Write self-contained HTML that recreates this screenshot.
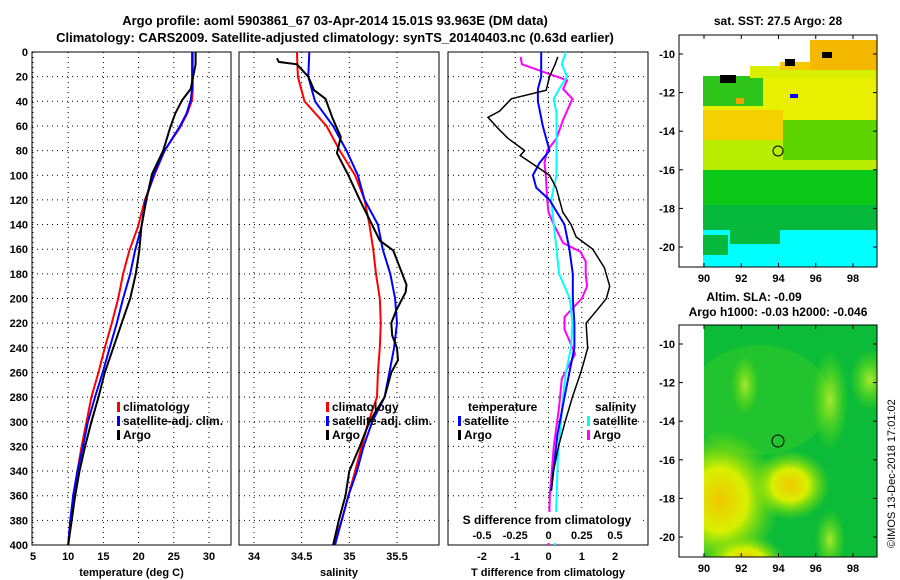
<!DOCTYPE html>
<html><head><meta charset="utf-8"><style>
body{margin:0;background:#fff;}
svg{display:block;font-family:"Liberation Sans",sans-serif;font-weight:bold;}
</style></head><body>
<svg id="chart" width="900" height="580" viewBox="0 0 900 580" xmlns="http://www.w3.org/2000/svg">
<defs>
<radialGradient id="yb"><stop offset="0" stop-color="#f0c800"/><stop offset="0.45" stop-color="#d8f000"/><stop offset="1" stop-color="#7ee000" stop-opacity="0"/></radialGradient>
<radialGradient id="gb"><stop offset="0" stop-color="#a8e830"/><stop offset="1" stop-color="#70e000" stop-opacity="0"/></radialGradient>
<clipPath id="c2"><rect x="704" y="325" width="173" height="232"/></clipPath>
</defs>
<text x="335" y="25" font-size="13" text-anchor="middle">Argo profile: aoml 5903861_67 03-Apr-2014 15.01S 93.963E (DM data)</text>
<text x="335" y="42" font-size="13" text-anchor="middle">Climatology: CARS2009. Satellite-adjusted climatology: synTS_20140403.nc (0.63d earlier)</text>
<g id="plots"></g>
<g>
<text x="778" y="25" font-size="12" text-anchor="middle">sat. SST: 27.5 Argo: 28</text>
<rect x="703" y="76" width="174" height="50" fill="#e8f000"/>
<rect x="703" y="76" width="60" height="30" fill="#2ec41a"/>
<rect x="750" y="66" width="127" height="12" fill="#d8ef00"/>
<rect x="780" y="62" width="97" height="8" fill="#f5c800"/>
<rect x="810" y="40" width="67" height="30" fill="#f5b800"/>
<rect x="703" y="110" width="80" height="35" fill="#f5d000"/>
<rect x="703" y="140" width="174" height="30" fill="#b8ec00"/>
<rect x="783" y="120" width="94" height="40" fill="#5ed400"/>
<rect x="703" y="170" width="174" height="40" fill="#0cc818"/>
<rect x="703" y="205" width="174" height="32" fill="#06b83c"/>
<rect x="703" y="230" width="174" height="37" fill="#00ffff"/>
<rect x="730" y="230" width="50" height="14" fill="#06b83c"/>
<rect x="703" y="235" width="25" height="20" fill="#06b83c"/>
<rect x="720" y="75" width="16" height="8" fill="#000"/>
<rect x="785" y="59" width="10" height="7" fill="#000"/>
<rect x="822" y="52" width="10" height="6" fill="#000"/>
<rect x="790" y="94" width="8" height="4" fill="#0000ff"/>
<rect x="736" y="98" width="8" height="6" fill="#f0a000"/>
<circle cx="778" cy="151" r="5" fill="none" stroke="#000"/>
<rect x="679" y="35" width="198" height="232" fill="none" stroke="#000"/>
</g>
<g>
<text x="754" y="301" font-size="12" text-anchor="middle">Altim. SLA: -0.09</text>
<text x="778" y="316" font-size="12" text-anchor="middle">Argo h1000: -0.03 h2000: -0.046</text>
<g clip-path="url(#c2)">
<rect x="704" y="325" width="173" height="232" fill="#0cbc38"/>
<ellipse cx="760" cy="400" rx="70" ry="55" fill="#30c828" opacity="0.6"/>
<ellipse cx="720" cy="500" rx="60" ry="70" fill="url(#yb)"/>
<ellipse cx="790" cy="485" rx="40" ry="35" fill="url(#yb)"/>
<ellipse cx="745" cy="560" rx="40" ry="25" fill="url(#yb)"/>
<ellipse cx="745" cy="385" rx="14" ry="30" fill="url(#gb)"/>
<ellipse cx="830" cy="400" rx="18" ry="50" fill="url(#gb)"/>
<ellipse cx="870" cy="380" rx="20" ry="30" fill="url(#gb)"/>
<ellipse cx="830" cy="540" rx="15" ry="30" fill="url(#gb)"/>
</g>
<circle cx="778" cy="441" r="6" fill="none" stroke="#000"/>
<rect x="679" y="325" width="198" height="232" fill="none" stroke="#000"/>
</g>
<g id="maps-axes"></g>
<text transform="translate(895,548) rotate(-90)" font-size="11" font-weight="normal">©IMOS 13-Dec-2018 17:01:02</text>
</svg>
<script>
const tDep = [0,10,30,39,50,61,80,99,120,142,161,180,200,220,240,260,280,300,320,340,360,380,400];
const tempClim = [27.7,27.7,27.7,27.6,26.9,25.9,23.7,22.3,20.9,19.9,18.7,17.8,17.1,16.2,15.2,14.3,13.3,12.6,11.9,11.3,10.8,10.3,10.0];
const tempSat  = [27.6,27.6,27.6,27.4,26.8,25.8,23.7,22.2,21.0,20.4,19.5,18.8,17.8,16.9,15.9,14.9,13.8,12.8,12.1,11.3,10.7,10.3,10.0];
const tempArgo = [28.1,28.1,27.4,26.2,25.2,24.5,23.5,21.9,21.1,20.4,20.1,19.6,18.8,17.6,16.4,15.2,14.3,13.3,12.4,11.6,11.0,10.5,10.0];
const sDep = [0,20,40,60,80,100,120,140,160,180,200,220,240,260,280,300,320,340,360,380,400];
const salClim = [34.45,34.46,34.53,34.76,34.90,35.06,35.16,35.21,35.25,35.28,35.32,35.33,35.32,35.30,35.29,35.20,35.13,35.06,34.99,34.92,34.83];
const salSat  = [34.58,34.57,34.64,34.83,34.97,35.09,35.16,35.30,35.35,35.43,35.48,35.50,35.47,35.42,35.37,35.24,35.15,35.08,34.99,34.92,34.85];
const saDep = [5,8,10,20,31,38,53,69,82,100,120,142,153,161,175,189,195,210,220,230,240,250,260,280,300,320,340,360,380,400];
const salArgo = [34.24,34.26,34.45,34.57,34.63,34.75,34.82,34.91,34.87,34.99,35.11,35.25,35.32,35.46,35.53,35.60,35.59,35.49,35.44,35.45,35.50,35.51,35.44,35.37,35.21,35.11,35.00,34.96,34.89,34.83];
const tbDep = [4,10,20,31,38,48,53,62,70,77,80,84,100,110,120,130,140,150,160,175,190,200,210,220,240,250,260,280,300,320,340,356];
const tDiffArgo = [0.28,0.2,0.03,-0.07,-1.12,-1.47,-1.82,-1.52,-1.22,-0.87,-0.72,-0.85,0.03,0.23,0.33,0.43,0.68,0.83,1.33,1.68,1.84,1.74,1.44,1.13,1.18,1.08,0.97,0.72,0.5,0.3,0.15,0.08];
const tsDep = [0,20,30,40,60,80,90,100,110,120,140,160,180,200,220,240,260,280,310,356];
const tDiffSat = [-0.22,-0.22,-0.32,-0.32,-0.17,0.03,-0.27,-0.47,-0.37,0.03,0.48,0.63,0.73,0.73,0.78,0.78,0.63,0.48,0.27,0.08];
const csDep = [0,10,20,30,38,50,70,100,110,120,140,160,180,200,220,240,260,280,330,400];
const sDiffSat = [0.13,0.10,0.14,0.08,0.04,0.06,0.06,0.06,0.04,0.02,0.04,0.06,0.08,0.16,0.18,0.17,0.13,0.11,0.07,0.05];
const msDep = [4,10,23,30,38,55,70,80,90,100,120,130,140,155,162,170,180,190,200,215,225,235,245,255,265,288,320,360,400];
const sDiffArgo = [-0.21,-0.2,0.14,0.11,0.18,0.11,0.06,-0.01,-0.03,-0.02,-0.01,0.0,0.04,0.11,0.24,0.28,0.28,0.29,0.25,0.12,0.12,0.16,0.20,0.15,0.10,0.08,0.04,0.01,0.0];
const depthTicks = [0,20,40,60,80,100,120,140,160,180,200,220,240,260,280,300,320,340,360,380,400];
const tempTicks = [5,10,15,20,25,30];
const salTicks = [34,34.5,35,35.5];
const tdTicks = [-2,-1,0,1,2];
const sdTicks = [-0.5,-0.25,0,0.25,0.5];
const sdLabels = ['-0.5','-0.25','0','0.25','0.5'];
const lonTicks = [90,92,94,96,98];
const latTicks = [-10,-12,-14,-16,-18,-20];

const NS='http://www.w3.org/2000/svg';
const g=document.getElementById('plots');
function el(t,a,p){const e=document.createElementNS(NS,t);for(const k in a)e.setAttribute(k,a[k]);(p||g).appendChild(e);return e;}
const Y0=52,Y1=545;
const yD=d=>Y0+d*(Y1-Y0)/400;
function lin(d0,d1,r0,r1){return v=>r0+(v-d0)*(r1-r0)/(d1-d0);}
const panels=[
 {x0:32,x1:231,sx:lin(5,30,33,209),ticks:tempTicks,lab:'temperature (deg C)',name:'temperature-panel'},
 {x0:239,x1:439,sx:lin(34,35.5,254,397),ticks:salTicks,lab:'salinity',name:'salinity-panel'},
 {x0:448,x1:648,sx:lin(-2,2,482,615),ticks:tdTicks,lab:'T difference from climatology',name:'difference-panel'}];
const sS=lin(-0.5,0.5,482,615);
panels.forEach((p,i)=>{
 const pg=el('g',{});
 
 
 depthTicks.forEach(d=>{
  el('line',{x1:p.x0,x2:p.x1,y1:yD(d),y2:yD(d),stroke:'#000','stroke-dasharray':'1 4'},pg);
  if(i==0){const t=el('text',{x:p.x0-4,y:yD(d)+4,'font-size':11,'text-anchor':'end'},pg);t.textContent=d;}
 });
 p.ticks.forEach((v,k)=>{
  const x=p.sx(v);
  el('line',{x1:x,x2:x,y1:Y0,y2:Y1,stroke:'#000','stroke-dasharray':'1 4'},pg);
  const t=el('text',{x:x,y:560,'font-size':11,'text-anchor':'middle'},pg);t.textContent=v;
 });
 const t=el('text',{x:(p.x0+p.x1)/2,y:576,'font-size':11,'text-anchor':'middle'},pg);t.textContent=p.lab;
 el('rect',{x:p.x0,y:Y0,width:p.x1-p.x0,height:Y1-Y0,fill:'none',stroke:'#000'},pg);
});
function line(dep,vals,sx,col,name,w){
 const pts=vals.map((v,i)=>sx(v).toFixed(1)+','+yD(dep[i]).toFixed(1)).join(' ');
 const l=el('polyline',{points:pts,fill:'none',stroke:col,'stroke-width':w||2});
 
 
}
line(tDep,tempClim,panels[0].sx,'#f00','temp-climatology-line');
line(tDep,tempSat,panels[0].sx,'#00f','temp-satellite-line');
line(tDep,tempArgo,panels[0].sx,'#000','temp-argo-line');
line(sDep,salClim,panels[1].sx,'#f00','sal-climatology-line');
line(sDep,salSat,panels[1].sx,'#00f','sal-satellite-line');
line(saDep,salArgo,panels[1].sx,'#000','sal-argo-line');
line(msDep,sDiffArgo,sS,'#f0f','sdiff-argo-line');
line(csDep,sDiffSat,sS,'#0ff','sdiff-satellite-line');
line(tsDep,tDiffSat,panels[2].sx,'#00f','tdiff-satellite-line');
line(tbDep,tDiffArgo,panels[2].sx,'#000','tdiff-argo-line',1.5);
el('rect',{x:453,y:512,width:190,height:31,fill:'#fff'});
let st=el('text',{x:547,y:524,'font-size':12,'text-anchor':'middle'});st.textContent='S difference from climatology';
sdTicks.forEach((v,k)=>{const t=el('text',{x:sS(v),y:539,'font-size':11,'text-anchor':'middle'});t.textContent=sdLabels[k];});
function leg(x,y,col,txt,name){
 const lg=el('g',{});
 
 
 if(col) el('rect',{x:x,y:y-9,width:3,height:10,fill:col},lg);
 const t=el('text',{x:x+6,y:y,'font-size':12},lg);t.textContent=txt;
}
leg(117,411,'#f00','climatology','legend-climatology');
leg(117,425,'#00f','satellite-adj. clim.','legend-satellite-adj');
leg(117,439,'#000','Argo','legend-argo');
leg(326,411,'#f00','climatology','legend-sal-climatology');
leg(326,425,'#00f','satellite-adj. clim.','legend-sal-satellite-adj');
leg(326,439,'#000','Argo','legend-sal-argo');
leg(462,411,null,'temperature','legend-temperature-header');
leg(458,425,'#00f','satellite','legend-t-satellite');
leg(458,439,'#000','Argo','legend-t-argo');
leg(589,411,null,'salinity','legend-salinity-header');
leg(587,425,'#0ff','satellite','legend-s-satellite');
leg(587,439,'#f0f','Argo','legend-s-argo');
const ma=document.getElementById('maps-axes');
const lonX=lin(90,98,704,853);
[[35,267,54,247],[325,557,344,537]].forEach((m,mi)=>{
 const latY=lin(-10,-20,m[2],m[3]);
 lonTicks.forEach(v=>{const x=lonX(v);el('line',{x1:x,x2:x,y1:m[0],y2:m[0]+4,stroke:'#000'},ma);el('line',{x1:x,x2:x,y1:m[1],y2:m[1]-4,stroke:'#000'},ma);
  const t=el('text',{x:x,y:m[1]+15,'font-size':11,'text-anchor':'middle'},ma);t.textContent=v;});
 latTicks.forEach(v=>{const y=latY(v);el('line',{x1:679,x2:683,y1:y,y2:y,stroke:'#000'},ma);el('line',{x1:877,x2:873,y1:y,y2:y,stroke:'#000'},ma);
  const t=el('text',{x:675,y:y+4,'font-size':11,'text-anchor':'end'},ma);t.textContent=v;});
});
</script>
</body></html>
